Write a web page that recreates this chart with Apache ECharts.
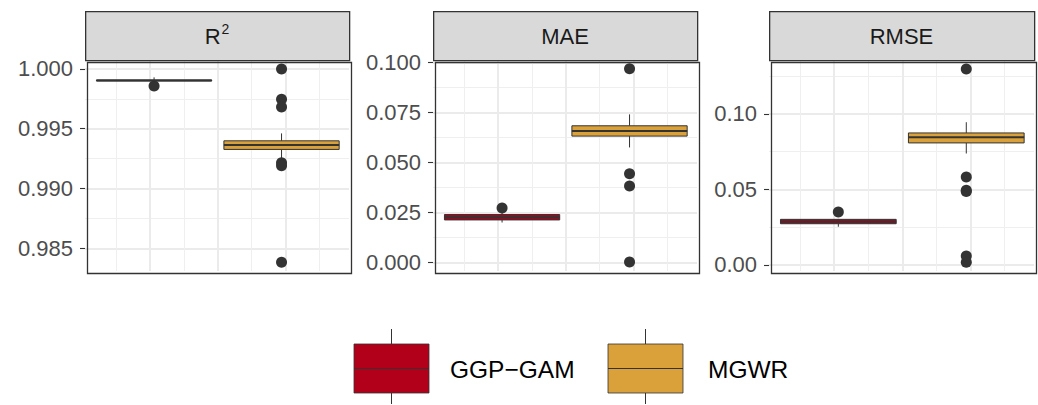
<!DOCTYPE html>
<html><head><meta charset="utf-8">
<script src="https://cdn.jsdelivr.net/npm/echarts@6/dist/echarts.min.js"></script>
<style>html,body{margin:0;padding:0;background:#fff}#c{width:1038px;height:405px}</style>
</head><body><div id="c"></div>
<script>
// ---- data ----
const models = ['GGP\u2212GAM', 'MGWR'];
const modelX = [1.06, 2.94];
const panelNames = ['R2', 'MAE', 'RMSE'];
// box stats: [lower whisker, Q1, median, Q3, upper whisker] per model
const r2Box = [[0.99898, 0.99900, 0.99904, 0.99908, 0.99930], [0.99254, 0.99327, 0.99363, 0.99399, 0.99461]];
const r2Out = [[0.99858], [1.0000, 0.99747, 0.99682, 0.99215, 0.99191, 0.98383]];
const maeBox = [[0.0200, 0.0213, 0.02265, 0.0240, 0.0250], [0.0575, 0.06315, 0.06565, 0.0683, 0.0740]];
const maeOut = [[0.0273], [0.0968, 0.0443, 0.0382, 0.0003]];
const rmseBox = [[0.0253, 0.0273, 0.0286, 0.0302, 0.0305], [0.0738, 0.0808, 0.0846, 0.0874, 0.0945]];
const rmseOut = [[0.0350], [0.1297, 0.0582, 0.0495, 0.0487, 0.0059, 0.0018]];
// tick labels / grid values
const r2Ticks = [0.985, 0.990, 0.995, 1.000];
const r2Minor = [0.9875, 0.9925, 0.9975];
const maeTicks = [0, 0.025, 0.050, 0.075, 0.100];
const maeMinor = [0.0125, 0.0375, 0.0625, 0.0875];
const rmseTicks = [0, 0.05, 0.10];
const rmseMinor = [0.025, 0.075, 0.125];
const xMajor = [1, 2, 3];
const xMinor = [0.5, 1.5, 2.5, 3.5];

// ---- styles / layout ----
const modelColors = ['#B2001A', '#DAA03A'];
const FONT = '"Liberation Sans", Arial, Helvetica, sans-serif';
const panels = [
  { box: r2Box, out: r2Out, ticks: r2Ticks, minor: r2Minor, left: 85, width: 264, ymin: 0.98310, ymax: 1.00075, dec: 3 },
  { box: maeBox, out: maeOut, ticks: maeTicks, minor: maeMinor, left: 433, width: 264, ymin: -0.0042, ymax: 0.10115, dec: 3 },
  { box: rmseBox, out: rmseOut, ticks: rmseTicks, minor: rmseMinor, left: 769, width: 265, ymin: -0.0040, ymax: 0.1357, dec: 2 }
];
const TOP = 60, HEIGHT = 211, STRIP_TOP = 11, STRIP_H = 49;
const XMIN = 0.0413, XMAX = 3.935, HALF_W = 0.85;

const grid = [], xAxis = [], yAxis = [], series = [], graphic = [];
panels.forEach((p, k) => {
  grid.push({ left: p.left, top: TOP, width: p.width, height: HEIGHT, show: true, backgroundColor: '#fff', borderWidth: 0 });
  // major x
  xAxis.push({ type: 'value', gridIndex: k, min: XMIN, max: XMAX, axisLabel: { show: false }, axisLine: { show: false },
    axisTick: { show: false, customValues: xMajor }, splitLine: { show: true, lineStyle: { color: '#EBEBEB', width: 2 } } });
  // minor x
  xAxis.push({ type: 'value', gridIndex: k, min: XMIN, max: XMAX, axisLabel: { show: false }, axisLine: { show: false },
    axisTick: { show: false, customValues: xMinor }, splitLine: { show: true, lineStyle: { color: '#EFEFEF', width: 1 } } });
  yAxis.push({ type: 'value', gridIndex: k, min: p.ymin, max: p.ymax,
    axisLine: { show: false },
    axisTick: { show: true, length: 5, customValues: p.ticks, lineStyle: { color: '#333333', width: 1.1 } },
    axisLabel: { show: true, customValues: p.ticks, margin: 12, color: '#4D4D4D', fontSize: 22, fontFamily: FONT,
      formatter: v => Number(v).toFixed(p.dec) },
    splitLine: { show: true, lineStyle: { color: '#EBEBEB', width: 2 } } });
  yAxis.push({ type: 'value', gridIndex: k, min: p.ymin, max: p.ymax,
    axisLine: { show: false }, axisLabel: { show: false },
    axisTick: { show: false, customValues: p.minor },
    splitLine: { show: true, lineStyle: { color: '#EFEFEF', width: 1 } } });

  const outData = [];
  p.out.forEach((arr, i) => arr.forEach(v => outData.push([modelX[i], v])));
  series.push({ type: 'scatter', xAxisIndex: 2 * k, yAxisIndex: 2 * k, data: outData, symbolSize: 11,
    itemStyle: { color: '#333333', opacity: 1 }, z: 2, silent: true });
  series.push({ type: 'custom', xAxisIndex: 2 * k, yAxisIndex: 2 * k, z: 3, silent: true, clip: false,
    encode: { x: 0, y: [1, 2, 3, 4, 5] },
    data: p.box.map((b, i) => [modelX[i], b[0], b[1], b[2], b[3], b[4], i]),
    renderItem: function (params, api) {
      const x = api.value(0), lw = api.value(1), q1 = api.value(2), med = api.value(3), q3 = api.value(4), uw = api.value(5);
      const ci = api.value(6);
      const a = api.coord([x - HALF_W, q3]), b = api.coord([x + HALF_W, q1]);
      const c = api.coord([x, med]), pl = api.coord([x, lw]), pu = api.coord([x, uw]);
      return { type: 'group', children: [
        { type: 'line', shape: { x1: c[0], y1: pu[1], x2: c[0], y2: a[1] }, style: { stroke: '#333333', lineWidth: 1 } },
        { type: 'line', shape: { x1: c[0], y1: b[1], x2: c[0], y2: pl[1] }, style: { stroke: '#333333', lineWidth: 1 } },
        { type: 'rect', shape: { x: a[0], y: a[1], width: b[0] - a[0], height: b[1] - a[1] },
          style: { fill: modelColors[ci], stroke: '#333333', lineWidth: 1 } },
        { type: 'line', shape: { x1: a[0], y1: c[1], x2: b[0], y2: c[1] }, style: { stroke: '#333333', lineWidth: 2 } }
      ] };
    } });

  // panel border
  graphic.push({ type: 'rect', left: p.left, top: TOP, z: 100, silent: true,
    shape: { width: p.width, height: HEIGHT }, style: { fill: 'none', stroke: '#333333', lineWidth: 1.3 } });
  // strip
  graphic.push({ type: 'rect', left: p.left, top: STRIP_TOP, z: 100, silent: true,
    shape: { width: p.width, height: STRIP_H }, style: { fill: '#D9D9D9', stroke: '#333333', lineWidth: 1.3 } });
  const label = panelNames[k] === 'R2' ? '{b|R}{sup|2}' : panelNames[k];
  graphic.push({ type: 'text', x: p.left + p.width / 2, y: STRIP_TOP + STRIP_H / 2 + 1, z: 101, silent: true,
    style: { text: label, fill: '#1A1A1A', fontSize: 22, fontFamily: FONT, align: 'center', verticalAlign: 'middle',
      rich: {
        b: { fontSize: 22, fontFamily: FONT, fill: '#1A1A1A', lineHeight: 30, verticalAlign: 'middle' },
        sup: { fontSize: 14, fontFamily: FONT, fill: '#1A1A1A', lineHeight: 16, verticalAlign: 'top', padding: [0, 0, 0, 1] }
      } } });
});

// legend
const legendKeys = [{ x: 354, tx: 450 }, { x: 608, tx: 708 }];
models.forEach((m, i) => {
  const L = legendKeys[i];
  const w = 75, y0 = 344, h = 49, cx = L.x + w / 2;
  graphic.push({ type: 'line', silent: true, z: 100, shape: { x1: cx, y1: 329, x2: cx, y2: 404 }, style: { stroke: '#333333', lineWidth: 1 } });
  graphic.push({ type: 'rect', silent: true, z: 101, shape: { x: L.x, y: y0, width: w, height: h }, style: { fill: modelColors[i], stroke: '#333333', lineWidth: 0.8 } });
  graphic.push({ type: 'line', silent: true, z: 102, shape: { x1: L.x, y1: y0 + h / 2, x2: L.x + w, y2: y0 + h / 2 }, style: { stroke: '#333333', lineWidth: 1 } });
  graphic.push({ type: 'text', silent: true, z: 102, x: L.tx, y: 369,
    style: { text: m, fill: '#000000', fontSize: 24.5, fontFamily: FONT, align: 'left', verticalAlign: 'middle' } });
});

const chart = echarts.init(document.getElementById('c'), null, { renderer: 'svg' });
chart.setOption({ animation: false, backgroundColor: '#ffffff', grid, xAxis, yAxis, series, graphic });
</script>
</body></html>
